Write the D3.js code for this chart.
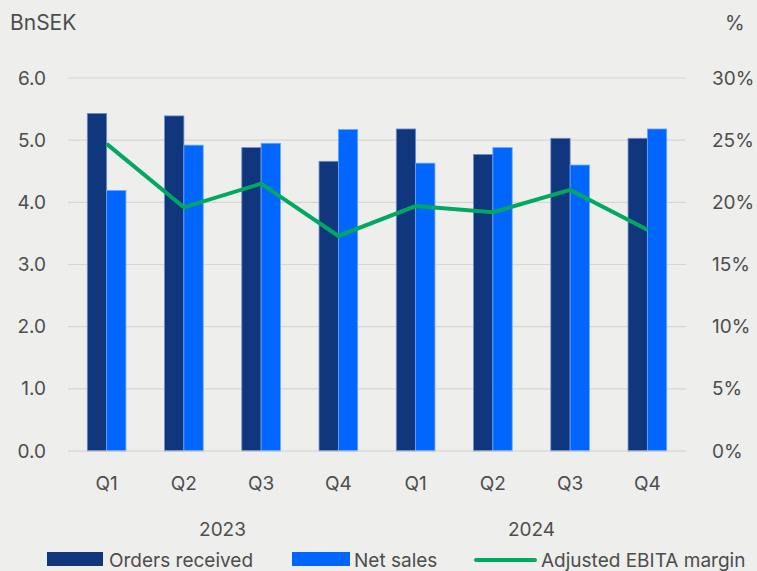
<!DOCTYPE html>
<html>
<head>
<meta charset="utf-8">
<script src="https://cdn.jsdelivr.net/npm/d3@7"></script>
<style>
  body { margin: 0; background: #eeeeec; }
  svg text { font-family: Inter, "Noto Sans", sans-serif; fill: #4d4d4d; }
</style>
</head>
<body>
<svg id="chart" width="757" height="571"></svg>
<script>
// data
let quarters = ["Q1", "Q2", "Q3", "Q4", "Q1", "Q2", "Q3", "Q4"];
let years = ["2023", "2024"];
let ordersReceived = [5.43, 5.39, 4.88, 4.66, 5.18, 4.77, 5.03, 5.03];
let netSales = [4.19, 4.92, 4.95, 5.17, 4.63, 4.88, 4.60, 5.18];
let ebitaMargin = [24.7, 19.6, 21.5, 17.3, 19.7, 19.2, 21.0, 17.8];
let leftTicks = [0, 1, 2, 3, 4, 5, 6];
let rightTicks = [0, 5, 10, 15, 20, 25, 30];

let svg = d3.select("#chart");
let plotLeft = 68, plotRight = 686, plotTop = 78, plotBottom = 451;

let x0 = d3.scaleBand()
  .domain(d3.range(quarters.length))
  .range([plotLeft, plotRight])
  .paddingInner(0.5)
  .paddingOuter(0.25);
let x1 = d3.scaleBand()
  .domain(["orders", "sales"])
  .range([0, x0.bandwidth()]);
let y = d3.scaleLinear().domain([0, 6]).range([plotBottom, plotTop]);
let yR = d3.scaleLinear().domain([0, 30]).range([plotBottom, plotTop]);

// gridlines
svg.append("g")
  .selectAll("line")
  .data(leftTicks.slice(1))
  .join("line")
  .attr("x1", plotLeft)
  .attr("x2", plotRight)
  .attr("y1", (d) => y(d))
  .attr("y2", (d) => y(d))
  .attr("stroke", "#d6d6d4")
  .attr("stroke-width", 1.2);

// left axis labels
svg.append("g")
  .selectAll("text")
  .data(leftTicks)
  .join("text")
  .attr("x", 46)
  .attr("y", (d) => y(d))
  .attr("dy", "0.35em")
  .attr("text-anchor", "end")
  .attr("font-size", 19)
  .text((d) => d.toFixed(1));

// right axis labels
svg.append("g")
  .selectAll("text")
  .data(rightTicks)
  .join("text")
  .attr("x", 712)
  .attr("y", (d) => yR(d))
  .attr("dy", "0.35em")
  .attr("font-size", 19)
  .text((d) => d + "%");

svg.append("text").attr("x", 10).attr("y", 30).attr("font-size", 21).text("BnSEK");
svg.append("text").attr("x", 725).attr("y", 30).attr("font-size", 20).text("%");

// bars
let groups = svg.append("g")
  .selectAll("g")
  .data(quarters.map((q, i) => i))
  .join("g")
  .attr("transform", (i) => `translate(${x0(i)},0)`);

groups.append("rect")
  .attr("x", x1("orders"))
  .attr("width", x1.bandwidth())
  .attr("y", (i) => y(ordersReceived[i]))
  .attr("height", (i) => y(0) - y(ordersReceived[i]))
  .attr("fill", "#10367e")
  .attr("stroke", "#6f8cc8")
  .attr("stroke-width", 0.8);

groups.append("rect")
  .attr("x", x1("sales"))
  .attr("width", x1.bandwidth())
  .attr("y", (i) => y(netSales[i]))
  .attr("height", (i) => y(0) - y(netSales[i]))
  .attr("fill", "#0066fe")
  .attr("stroke", "#6aa6ff")
  .attr("stroke-width", 0.8);

// baseline
svg.append("line")
  .attr("x1", plotLeft).attr("x2", plotRight)
  .attr("y1", plotBottom).attr("y2", plotBottom)
  .attr("stroke", "#d0d0ce")
  .attr("stroke-width", 1.2);

// margin line
let line = d3.line()
  .x((d, i) => x0(i) + x0.bandwidth() / 2)
  .y((d) => yR(d));

svg.append("path")
  .datum(ebitaMargin)
  .attr("d", line)
  .attr("fill", "none")
  .attr("stroke", "#00a862")
  .attr("stroke-width", 4)
  .attr("stroke-linejoin", "miter");

// x labels
svg.append("g")
  .selectAll("text")
  .data(quarters)
  .join("text")
  .attr("x", (d, i) => x0(i) + x0.bandwidth() / 2)
  .attr("y", 490)
  .attr("text-anchor", "middle")
  .attr("font-size", 19)
  .text((d) => d);

svg.append("g")
  .selectAll("text")
  .data(years)
  .join("text")
  .attr("x", (d, i) => (x0(i * 4 + 1) + x0(i * 4 + 2) + x0.bandwidth()) / 2)
  .attr("y", 536)
  .attr("text-anchor", "middle")
  .attr("font-size", 19)
  .text((d) => d);

// legend
let legend = svg.append("g");
legend.append("rect").attr("x", 47).attr("y", 552).attr("width", 56).attr("height", 14).attr("fill", "#10367e");
legend.append("text").attr("x", 109).attr("y", 567).attr("font-size", 19).text("Orders received");
legend.append("rect").attr("x", 292).attr("y", 552).attr("width", 58).attr("height", 14).attr("fill", "#0066fe");
legend.append("text").attr("x", 354).attr("y", 567).attr("font-size", 19).text("Net sales");
legend.append("line").attr("x1", 476).attr("x2", 535).attr("y1", 560).attr("y2", 560)
  .attr("stroke", "#00a862").attr("stroke-width", 4).attr("stroke-linecap", "round");
legend.append("text").attr("x", 541).attr("y", 567).attr("font-size", 19).text("Adjusted EBITA margin");
</script>
</body>
</html>
